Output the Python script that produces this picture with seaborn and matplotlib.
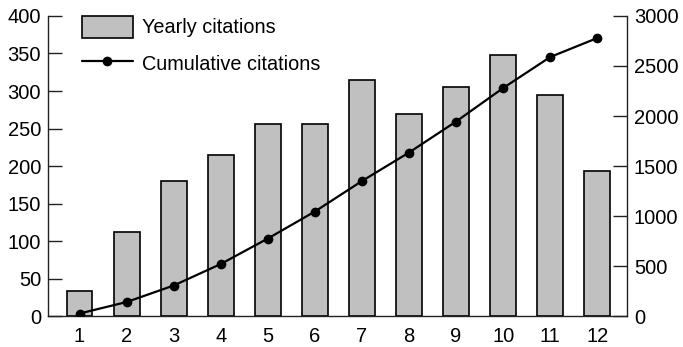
import matplotlib
matplotlib.use("Agg")
import matplotlib.pyplot as plt
import seaborn as sns
import pandas as pd

# Citation counts per year of publication
years = ["1", "2", "3", "4", "5", "6", "7", "8", "9", "10", "11", "12"]
yearly = [33, 112, 180, 215, 256, 256, 315, 269, 305, 348, 295, 194]
cumulative = [25, 140, 305, 520, 775, 1045, 1350, 1635, 1945, 2280, 2590, 2780]

left_ticks = [0, 50, 100, 150, 200, 250, 300, 350, 400]
right_ticks = [0, 500, 1000, 1500, 2000, 2500, 3000]

sns.set_theme(style="white")
plt.rcParams["font.family"] = ["Liberation Sans", "DejaVu Sans"]
plt.rcParams["text.color"] = "black"
plt.rcParams["xtick.color"] = "black"
plt.rcParams["ytick.color"] = "black"

df = pd.DataFrame({"year": years, "yearly": yearly, "cumulative": cumulative})

fig = plt.figure(figsize=(6.83, 3.47), dpi=100)
ax = fig.add_axes([0.0703, 0.0893, 0.8477, 0.8646])

sns.barplot(data=df, x="year", y="yearly", ax=ax, color="#c0c0c0",
            saturation=1, width=0.55, edgecolor="black", linewidth=1.2,
            label="Yearly citations")

ax2 = ax.twinx()
sns.lineplot(data=df, x="year", y="cumulative", ax=ax2, color="black",
             linewidth=1.6, marker="o", markersize=7, markeredgewidth=0,
             label="Cumulative citations", sort=False)

ax.set_xlim(-0.67, 11.63)
ax.set_ylim(0, 400)
ax2.set_ylim(0, 3000)
ax.set_yticks(left_ticks)
ax2.set_yticks(right_ticks)

for a in (ax, ax2):
    a.set_xlabel("")
    a.set_ylabel("")
    a.spines["top"].set_visible(False)
    for s in a.spines.values():
        s.set_color("#222222")
        s.set_linewidth(1.0)

ax.spines["right"].set_visible(False)
ax2.spines["left"].set_visible(False)
ax2.spines["bottom"].set_visible(False)

ax.tick_params(axis="y", direction="in", length=10, width=1.0,
               color="#222222", labelcolor="black", labelsize=14.5, pad=5,
               left=True)
ax2.tick_params(axis="y", direction="in", length=10, width=1.0,
                color="#222222", labelcolor="black", labelsize=14.5, pad=5,
                right=True)
ax.tick_params(axis="x", length=0, labelsize=14.5, labelcolor="black", pad=8)

h1, l1 = ax.get_legend_handles_labels()
h2, l2 = ax2.get_legend_handles_labels()
if ax2.get_legend() is not None:
    ax2.get_legend().remove()
if ax.get_legend() is not None:
    ax.get_legend().remove()
leg = ax2.legend(h1 + h2, l1 + l2, loc="upper left", frameon=False,
                 fontsize=14.3, handlelength=2.56, handleheight=1.3,
                 handletextpad=0.45, labelspacing=0.75, borderpad=0.0,
                 borderaxespad=0.0, bbox_to_anchor=(0.0587, 1.0))
for t in leg.get_texts():
    t.set_color("black")

fig.savefig("out.png", dpi=100)
